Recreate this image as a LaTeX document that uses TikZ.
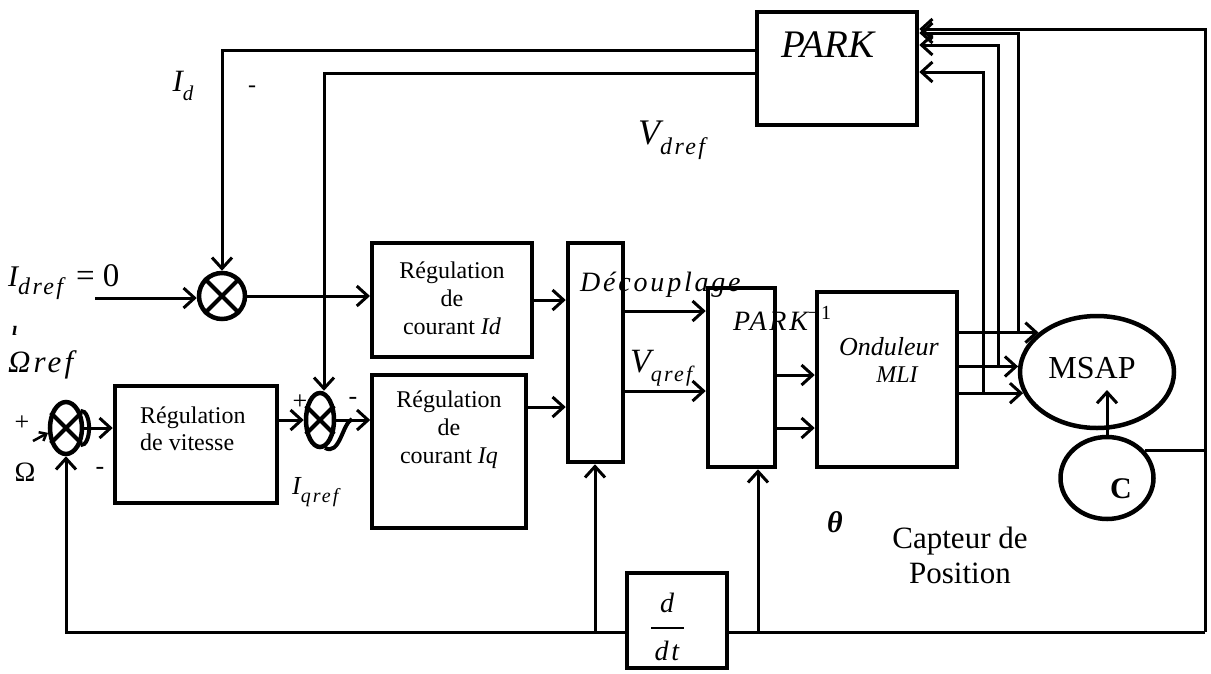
\documentclass[tikz,border=0pt]{standalone}
\usepackage{fontspec}
\setmainfont{Liberation Serif}
\newfontfamily\spc{Liberation Serif}[LetterSpace=10]
\usetikzlibrary{arrows.meta,shapes.geometric,calc}
\newcommand\fs[2]{\fontsize{#1}{#2}\selectfont}
\newcommand\sbs[2]{\raisebox{-0.28em}{\fs{#1}{#1}\spc\itshape #2}}
\begin{document}
\begin{tikzpicture}[x=1pt,y=-1pt,
  wire/.style={line width=3pt},
  arr/.style={wire,-{Straight Barb[length=11pt,width=20pt]}},
  blk/.style={draw,line width=4.5pt,rectangle,inner sep=0pt},
  sumn/.style={draw,line width=4.5pt,ellipse,inner sep=0pt},
  lab/.style={inner sep=0pt}]
\useasboundingbox (0,0) rectangle (1211,673);

% blocks
\node[blk,minimum width=160pt,minimum height=113pt] (park) at (837,68.5) {};
\node[blk,line width=4pt,minimum width=160pt,minimum height=114pt] (idb) at (452,300) {};
\node[blk,line width=3.5pt,minimum width=154pt,minimum height=153pt] (iqb) at (449,451.5) {};
\node[blk,minimum width=162pt,minimum height=117pt] (vit) at (196,444.5) {};
\node[blk,minimum width=55pt,minimum height=219pt] (dec) at (595.5,352.5) {};
\node[blk,minimum width=67pt,minimum height=179pt] (pinv) at (741.5,377.5) {};
\node[blk,minimum width=140pt,minimum height=175pt] (ond) at (887,379.5) {};
\node[blk,minimum width=100pt,minimum height=95pt] (ddt) at (677,620.5) {};
\node[sumn,minimum width=154pt,minimum height=112pt] (msap) at (1097,372) {};
\node[sumn,minimum width=93pt,minimum height=82pt] (capt) at (1107,478) {};
\node[sumn,minimum width=46pt,minimum height=46pt] (s1) at (222,296) {};
\node[sumn,minimum width=28pt,minimum height=54pt] (s2) at (320,420) {};
\node[sumn,minimum width=32pt,minimum height=52pt] (s3) at (66,428) {};
\foreach \s in {s1,s2,s3} \draw[line width=4pt] (\s.45)--(\s.225) (\s.135)--(\s.315);
\draw[line width=4pt] (s3.50) .. controls (92,410) and (92,446) .. (s3.-50);
\draw[line width=4pt] (s2.-80) .. controls (340,456) and (342,424) .. (352,419);

% texts in blocks
\node[lab,font=\fs{39}{39}\itshape] at (828,45) {PARK};
\node[lab,align=center,font=\fs{24}{28}] at (452,298) {Régulation\\de\\courant {\itshape Id}};
\node[lab,align=center,font=\fs{24}{28}] at (449,430) {Régulation\\de\\courant {\itshape Iq}};
\node[lab,anchor=west,align=left,font=\fs{24}{27}] at (140,429) {Régulation\\de vitesse};
\node[lab,anchor=west,font=\fs{28}{28}\spc\itshape] at (580,285) {Découplage};
\node[lab,anchor=west,font=\fs{28}{28}\spc\itshape] at (733,318) {PARK\raisebox{0.4em}{\fs{20}{20}\upshape −1}};
\node[lab,font=\fs{26}{26}\itshape] at (889,347) {Onduleur};
\node[lab,font=\fs{24}{24}\itshape] at (897,375) {MLI};
\node[lab,font=\fs{32}{32}] at (1092,368) {MSAP};
\node[lab,font=\fs{30}{30}\bfseries] at (1121,489) {C};
\node[lab,font=\fs{28}{28}\itshape] at (667,603) {d};
\draw[line width=1.5pt] (651,628) -- (684,628);
\node[lab,font=\fs{28}{28}\spc\itshape] at (667,651) {dt};

% free labels
\node[lab,font=\fs{30}{30}\bfseries\itshape] at (835,522) {θ};
\node[lab,align=center,font=\fs{31}{35}] at (960,555) {Capteur de\\Position};
\node[lab,anchor=west,font=\fs{30}{30}] at (8,282) {\itshape I\sbs{24}{dref}\hspace{13pt}\upshape{\fs{33}{33}= 0}};
\node[lab,font=\fs{20}{20}\bfseries\itshape] at (15,331) {ı};
\node[lab,anchor=west,font=\fs{31}{31}\spc\itshape] at (8,365) {Ωref};
\node[lab,font=\fs{31}{31}\itshape] at (183,86) {I\sbs{21}{d}};
\node[lab,font=\fs{24}{24}] at (252,89) {-};
\node[lab,anchor=west,font=\fs{36}{36}\itshape] at (638,140) {V\sbs{24}{dref}};
\node[lab,anchor=west,font=\fs{34}{34}\itshape] at (630,368) {V\sbs{22}{qref}};
\node[lab,anchor=west,font=\fs{26}{26}\itshape] at (292,492) {I\sbs{20}{qref}};
\node[lab,font=\fs{26}{26}] at (300,402) {+};
\node[lab,font=\fs{26}{26}] at (353,401) {-};
\node[lab,font=\fs{26}{26}] at (22,423) {+};
\node[lab,font=\fs{28}{28}] at (25,472) {Ω};
\node[lab,font=\fs{26}{26}] at (100,471) {-};

% connectors
\coordinate (c1) at (222,50);
\draw[arr] (park.west|-c1) -- (c1) -- (s1);
\coordinate (c2) at (324,73);
\draw[arr] (park.west|-c2) -- (c2) -- (c2|-s2.north);
\coordinate (in1) at (95,298);
\draw[arr] (in1) -- (in1-|s1.west);
\draw[arr] (s1.east) -- (s1.east-|idb.west);
\draw[arr] (idb.east) -- (idb.east-|dec.west);
\coordinate (y407) at (0,407);
\draw[arr] (iqb.east|-y407) -- (dec.west|-y407);
\coordinate (y311) at (0,311);
\coordinate (y391) at (0,391);
\draw[arr] (dec.east|-y311) -- (pinv.west|-y311);
\draw[arr] (dec.east|-y391) -- (pinv.west|-y391);
\coordinate (y375) at (0,375);
\coordinate (y428) at (0,428);
\draw[arr] (pinv.east|-y375) -- (ond.west|-y375);
\draw[arr] (pinv.east|-y428) -- (ond.west|-y428);
\draw[arr] (ond.east|-msap.146) -- (msap.146);
\draw[arr] (ond.east|-msap.176) -- (msap.176);
\draw[arr] (ond.east|-msap.196) -- (msap.196);
\coordinate (v1) at (983,0);
\coordinate (v2) at (998,0);
\coordinate (v3) at (1018,0);
\coordinate (y72) at (0,72);
\coordinate (y45) at (0,45);
\coordinate (y33) at (0,33);
\draw[arr] (v1|-msap.196) -- (v1|-y72) -- (park.east|-y72);
\draw[arr] (v2|-msap.176) -- (v2|-y45) -- (park.east|-y45);
\draw[arr] (v3|-msap.146) -- (v3|-y33) -- (park.east|-y33);
\coordinate (rt) at (1205,29);
\coordinate (rb) at (1205,632);
\draw[wire] (capt.36) -- (capt.36-|rt);
\draw[arr] (rb) -- (rt) -- (park.east|-rt);
\draw[wire] (rb) -- (ddt.east|-rb);
\coordinate (t1) at (758,632);
\draw[arr] (t1) -- (t1|-pinv.south);
\draw[arr] (ddt.west|-rb) -- (s3.south|-rb) -- (s3.south);
\coordinate (t2) at (595,632);
\draw[arr] (t2) -- (t2|-dec.south);
\coordinate (msin) at (1107,390);
\draw[arr] (capt.north) -- (msin);
\draw[arr] (s3.east) -- (s3.east-|vit.west);
\draw[arr] (vit.east|-s2.west) -- (s2.west);
\draw[arr] (s2.east) -- (s2.east-|iqb.west);
\coordinate (omin) at (33,441);
\draw[line width=2.5pt,-{Straight Barb[length=6pt,width=10pt]}] (omin) -- (s3.195);
\end{tikzpicture}
\end{document}
